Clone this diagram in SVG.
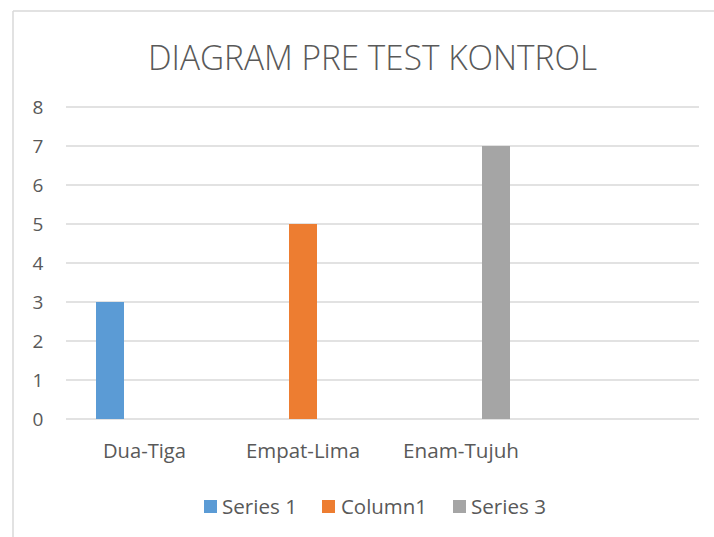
<svg xmlns="http://www.w3.org/2000/svg" width="714" height="537" viewBox="0 0 714 537">
<style>
.t{font-family:"Open Sans","Liberation Sans",sans-serif;fill:#595959}
.ax{font-size:19px;text-anchor:middle}
.cat{font-size:19.5px}
.grid{stroke:#d9d9d9;stroke-width:1.3}
</style>
<rect width="714" height="537" fill="#ffffff"/>
<g id="border" stroke="#d9d9d9" stroke-width="1.5" fill="none">
<line x1="13" y1="11" x2="714" y2="11"/>
<line x1="13" y1="11" x2="13" y2="537"/>
</g>
<text id="title" class="t" x="148" y="70" font-size="35" textLength="449" lengthAdjust="spacingAndGlyphs" font-weight="300">DIAGRAM PRE TEST KONTROL</text>
<g id="grid">
<line class="grid" x1="66" y1="107" x2="699" y2="107"/>
<line class="grid" x1="66" y1="146" x2="699" y2="146"/>
<line class="grid" x1="66" y1="185" x2="699" y2="185"/>
<line class="grid" x1="66" y1="224" x2="699" y2="224"/>
<line class="grid" x1="66" y1="263" x2="699" y2="263"/>
<line class="grid" x1="66" y1="302" x2="699" y2="302"/>
<line class="grid" x1="66" y1="341" x2="699" y2="341"/>
<line class="grid" x1="66" y1="380" x2="699" y2="380"/>
<line class="grid" x1="66" y1="419" x2="699" y2="419"/>
</g>
<g id="yaxis" class="t ax">
<text x="38" y="114">8</text>
<text x="38" y="153">7</text>
<text x="38" y="192">6</text>
<text x="38" y="231">5</text>
<text x="38" y="270">4</text>
<text x="38" y="309">3</text>
<text x="38" y="348">2</text>
<text x="38" y="387">1</text>
<text x="38" y="426">0</text>
</g>
<g id="bars">
<rect id="bar-dua-tiga" x="96" y="302" width="28" height="117" fill="#5b9bd5"/>
<rect id="bar-empat-lima" x="289" y="224" width="28" height="195" fill="#ed7d31"/>
<rect id="bar-enam-tujuh" x="482" y="146" width="28" height="273" fill="#a5a5a5"/>
</g>
<g id="categories" class="t cat">
<text x="103" y="458" textLength="83" lengthAdjust="spacingAndGlyphs">Dua-Tiga</text>
<text x="246" y="458" textLength="114" lengthAdjust="spacingAndGlyphs">Empat-Lima</text>
<text x="403" y="458" textLength="116" lengthAdjust="spacingAndGlyphs">Enam-Tujuh</text>
</g>
<g id="legend" class="t cat">
<rect x="204" y="500" width="13" height="13" fill="#5b9bd5"/>
<text x="222" y="514" textLength="75" lengthAdjust="spacingAndGlyphs">Series 1</text>
<rect x="322" y="500" width="13" height="13" fill="#ed7d31"/>
<text x="341" y="514" textLength="86" lengthAdjust="spacingAndGlyphs">Column1</text>
<rect x="453" y="500" width="13" height="13" fill="#a5a5a5"/>
<text x="471" y="514" textLength="75" lengthAdjust="spacingAndGlyphs">Series 3</text>
</g>
</svg>
